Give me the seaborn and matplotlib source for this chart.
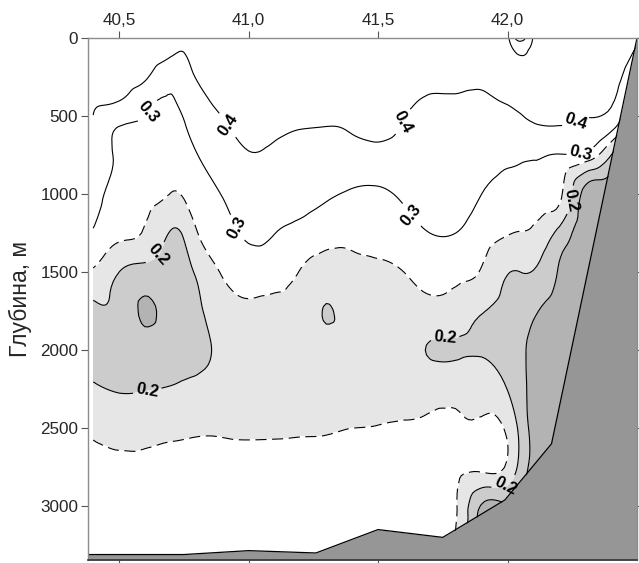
import numpy as np
import matplotlib
matplotlib.use("Agg")
import matplotlib.pyplot as plt
import matplotlib.tri as mtri
import seaborn as sns

# ---------------- data ----------------
depths = [0, 100, 250, 400, 550, 750, 1000, 1250, 1500, 1750, 2000, 2250, 2500, 2750, 3000, 3200, 3350]
lons = [40.4, 40.5, 40.6, 40.7, 40.75, 40.8, 40.9, 41.0, 41.1, 41.2, 41.3, 41.4,
        41.5, 41.6, 41.7, 41.8, 41.9, 42.0, 42.05, 42.1, 42.2, 42.3, 42.4, 42.5]

st_40_40 = [0.46, 0.448, 0.430, 0.411, 0.392, 0.365, 0.331, 0.296, 0.243, 0.187, 0.180, 0.206, 0.242, 0.257, 0.265, 0.270, 0.275]
st_40_50 = [0.47, 0.453, 0.427, 0.402, 0.307, 0.289, 0.276, 0.262, 0.200, 0.185, 0.178, 0.197, 0.230, 0.260, 0.265, 0.270, 0.272]
st_40_60 = [0.47, 0.447, 0.412, 0.332, 0.293, 0.281, 0.265, 0.244, 0.182, 0.144, 0.170, 0.198, 0.235, 0.258, 0.265, 0.270, 0.270]
st_40_70 = [0.45, 0.411, 0.334, 0.294, 0.283, 0.268, 0.249, 0.197, 0.180, 0.168, 0.180, 0.203, 0.241, 0.258, 0.265, 0.270, 0.270]
st_40_75 = [0.43, 0.398, 0.362, 0.326, 0.296, 0.277, 0.254, 0.206, 0.188, 0.176, 0.185, 0.207, 0.243, 0.258, 0.265, 0.270, 0.270]
st_40_80 = [0.46, 0.440, 0.405, 0.374, 0.340, 0.298, 0.273, 0.247, 0.205, 0.192, 0.190, 0.211, 0.245, 0.258, 0.265, 0.270, 0.270]
st_40_90 = [0.47, 0.460, 0.440, 0.417, 0.394, 0.354, 0.304, 0.278, 0.255, 0.222, 0.207, 0.218, 0.245, 0.258, 0.265, 0.270, 0.270]
st_41_00 = [0.48, 0.470, 0.460, 0.445, 0.424, 0.396, 0.353, 0.311, 0.273, 0.240, 0.217, 0.225, 0.245, 0.258, 0.265, 0.270, 0.270]
st_41_10 = [0.48, 0.470, 0.455, 0.440, 0.418, 0.386, 0.343, 0.301, 0.267, 0.235, 0.212, 0.222, 0.245, 0.258, 0.265, 0.270, 0.270]
st_41_20 = [0.48, 0.470, 0.450, 0.430, 0.406, 0.371, 0.326, 0.285, 0.248, 0.228, 0.211, 0.222, 0.246, 0.258, 0.265, 0.270, 0.270]
st_41_30 = [0.48, 0.470, 0.450, 0.428, 0.403, 0.363, 0.309, 0.267, 0.226, 0.198, 0.212, 0.225, 0.247, 0.258, 0.265, 0.270, 0.270]
st_41_40 = [0.48, 0.470, 0.455, 0.440, 0.416, 0.360, 0.293, 0.261, 0.238, 0.222, 0.216, 0.228, 0.250, 0.258, 0.265, 0.270, 0.270]
st_41_50 = [0.48, 0.470, 0.465, 0.455, 0.440, 0.365, 0.290, 0.265, 0.242, 0.226, 0.216, 0.230, 0.251, 0.258, 0.265, 0.270, 0.270]
st_41_60 = [0.48, 0.470, 0.450, 0.420, 0.396, 0.358, 0.310, 0.278, 0.250, 0.230, 0.212, 0.232, 0.252, 0.258, 0.265, 0.270, 0.270]
st_41_70 = [0.47, 0.450, 0.420, 0.394, 0.378, 0.356, 0.328, 0.300, 0.264, 0.235, 0.197, 0.232, 0.254, 0.258, 0.265, 0.260, 0.260]
st_41_80 = [0.47, 0.450, 0.418, 0.394, 0.377, 0.355, 0.327, 0.300, 0.262, 0.228, 0.195, 0.235, 0.256, 0.258, 0.255, 0.250, 0.250]
st_41_90 = [0.46, 0.445, 0.415, 0.390, 0.367, 0.338, 0.300, 0.274, 0.246, 0.203, 0.195, 0.230, 0.258, 0.262, 0.145, 0.140, 0.140]
st_42_00 = [0.49, 0.470, 0.440, 0.407, 0.371, 0.320, 0.281, 0.253, 0.202, 0.183, 0.178, 0.199, 0.240, 0.240, 0.145, 0.140, 0.140]
st_42_05 = [0.57, 0.505, 0.445, 0.413, 0.385, 0.315, 0.278, 0.248, 0.200, 0.170, 0.159, 0.167, 0.185, 0.183, 0.140, 0.135, 0.135]
st_42_10 = [0.495, 0.480, 0.450, 0.420, 0.398, 0.310, 0.274, 0.242, 0.198, 0.156, 0.140, 0.135, 0.135, 0.135, 0.130, 0.130, 0.130]
st_42_20 = [0.47, 0.460, 0.440, 0.420, 0.405, 0.297, 0.263, 0.186, 0.145, 0.130, 0.125, 0.120, 0.120, 0.120, 0.120, 0.120, 0.120]
st_42_30 = [0.47, 0.460, 0.440, 0.420, 0.390, 0.285, 0.130, 0.120, 0.120, 0.120, 0.120, 0.120, 0.120, 0.120, 0.120, 0.120, 0.120]
st_42_40 = [0.47, 0.460, 0.440, 0.415, 0.340, 0.200, 0.120, 0.120, 0.120, 0.120, 0.120, 0.120, 0.120, 0.120, 0.120, 0.120, 0.120]
st_42_50 = [0.42, 0.380, 0.300, 0.200, 0.140, 0.120, 0.120, 0.120, 0.120, 0.120, 0.120, 0.120, 0.120, 0.120, 0.120, 0.120, 0.120]

stations = [st_40_40, st_40_50, st_40_60, st_40_70, st_40_75, st_40_80, st_40_90,
            st_41_00, st_41_10, st_41_20, st_41_30, st_41_40, st_41_50, st_41_60,
            st_41_70, st_41_80, st_41_90, st_42_00, st_42_05, st_42_10, st_42_20,
            st_42_30, st_42_40, st_42_50]

bottom_lon = [40.38, 40.75, 41.0, 41.26, 41.5, 41.75, 41.99, 42.17, 42.5]
bottom_depth = [3310, 3310, 3285, 3300, 3150, 3200, 2960, 2600, 0]

x_ticks = [40.5, 41.0, 41.5, 42.0]
x_tick_labels = ["40,5", "41,0", "41,5", "42,0"]
y_ticks = [0, 500, 1000, 1500, 2000, 2500, 3000]
y_tick_labels = ["0", "500", "1000", "1500", "2000", "2500", "3000"]

fill_levels = [-1.0, 0.15, 0.2, 0.25, 2.0]
fill_colors = ["#b3b3b3", "#cccccc", "#e6e6e6", "#ffffff"]
labeled_levels = [0.2, 0.3, 0.4]
plain_levels = [0.15, 0.5, 0.55]
dashed_levels = [0.25]

label_positions = [(40.59, 442), (40.92, 557), (41.60, 538), (42.27, 557), (42.28, 710),
                   (40.94, 1230), (41.62, 1146), (40.62, 1340), (40.61, 2272),
                   (42.24, 1037), (41.76, 1952), (41.98, 2817)]

# ---------------- style ----------------
sns.set_theme(style="ticks")
plt.rcParams["font.family"] = ["Liberation Sans", "DejaVu Sans"]
plt.rcParams["lines.dashed_pattern"] = [8, 4]
plt.rcParams["lines.scale_dashes"] = False

fig = plt.figure(figsize=(6.39, 5.63), dpi=100)
ax = fig.add_axes([88 / 639, 3 / 563, (637 - 88) / 639, (560 - 38) / 563])
ax.set_facecolor("white")

# ---------------- field ----------------
Z = np.array(stations, dtype=float).T          # (depth, lon)
X, D = np.meshgrid(lons, depths)
sx, sy = 259.3, 0.1562                          # roughly isotropic (pixel) scaling
nr, nc = Z.shape
idx = np.arange(nr * nc).reshape(nr, nc)
a = idx[:-1, :-1].ravel(); b = idx[:-1, 1:].ravel()
c = idx[1:, 1:].ravel(); d = idx[1:, :-1].ravel()
tris = np.concatenate([np.stack([a, b, c], 1), np.stack([a, c, d], 1)])
tri_s = mtri.Triangulation(X.ravel() * sx, D.ravel() * sy, tris)
interp = mtri.CubicTriInterpolator(tri_s, Z.ravel(), kind="min_E")
refiner = mtri.UniformTriRefiner(tri_s)
tri_r, z_r = refiner.refine_field(Z.ravel(), triinterpolator=interp, subdiv=3)
tri_p = mtri.Triangulation(tri_r.x / sx, tri_r.y / sy, tri_r.triangles)

ax.tricontourf(tri_p, z_r, levels=fill_levels, colors=fill_colors, zorder=1)
cs_lab = ax.tricontour(tri_p, z_r, levels=labeled_levels, colors="black",
                       linewidths=0.8, linestyles="solid", zorder=2)
ax.tricontour(tri_p, z_r, levels=plain_levels, colors="black",
              linewidths=0.8, linestyles="solid", zorder=2)
ax.tricontour(tri_p, z_r, levels=dashed_levels, colors="black",
              linewidths=0.8, linestyles="dashed", zorder=2)
txts = ax.clabel(cs_lab, manual=label_positions, fmt=lambda v: f"{v:.1f}",
                 fontsize=12, inline=True, inline_spacing=3)
for t in txts:
    t.set_fontweight("bold")

# ---------------- bottom topography ----------------
y_max = 3345
ax.fill_between(bottom_lon, bottom_depth, y_max, color="#969696", lw=0, zorder=3)
ax.plot(bottom_lon, bottom_depth, color="black", lw=0.9, zorder=4)

# ---------------- axes ----------------
ax.set_xlim(40.38, 42.5)
ax.set_ylim(y_max, 0)
ax.set_xticks(x_ticks)
ax.set_xticklabels(x_tick_labels)
ax.set_yticks(y_ticks)
ax.set_yticklabels(y_tick_labels)
ax.tick_params(axis="x", which="both", top=True, bottom=True, labeltop=True,
               labelbottom=False, direction="out", length=5, width=0.8,
               color="#555555", labelsize=12.3, pad=2)
ax.tick_params(axis="y", which="both", left=True, right=True, labelleft=True,
               labelright=False, direction="out", length=5, width=0.8,
               color="#555555", labelsize=12.3, pad=2)
ax.set_ylabel("Глубина, м", fontsize=16.5, labelpad=6)
for side in ["top", "left", "right"]:
    ax.spines[side].set_color("#8c8c8c")
    ax.spines[side].set_linewidth(1.0)
ax.spines["bottom"].set_color("#333333")
ax.spines["bottom"].set_linewidth(1.2)
for s in ax.spines.values():
    s.set_zorder(6)

fig.savefig("out.png", dpi=100)
